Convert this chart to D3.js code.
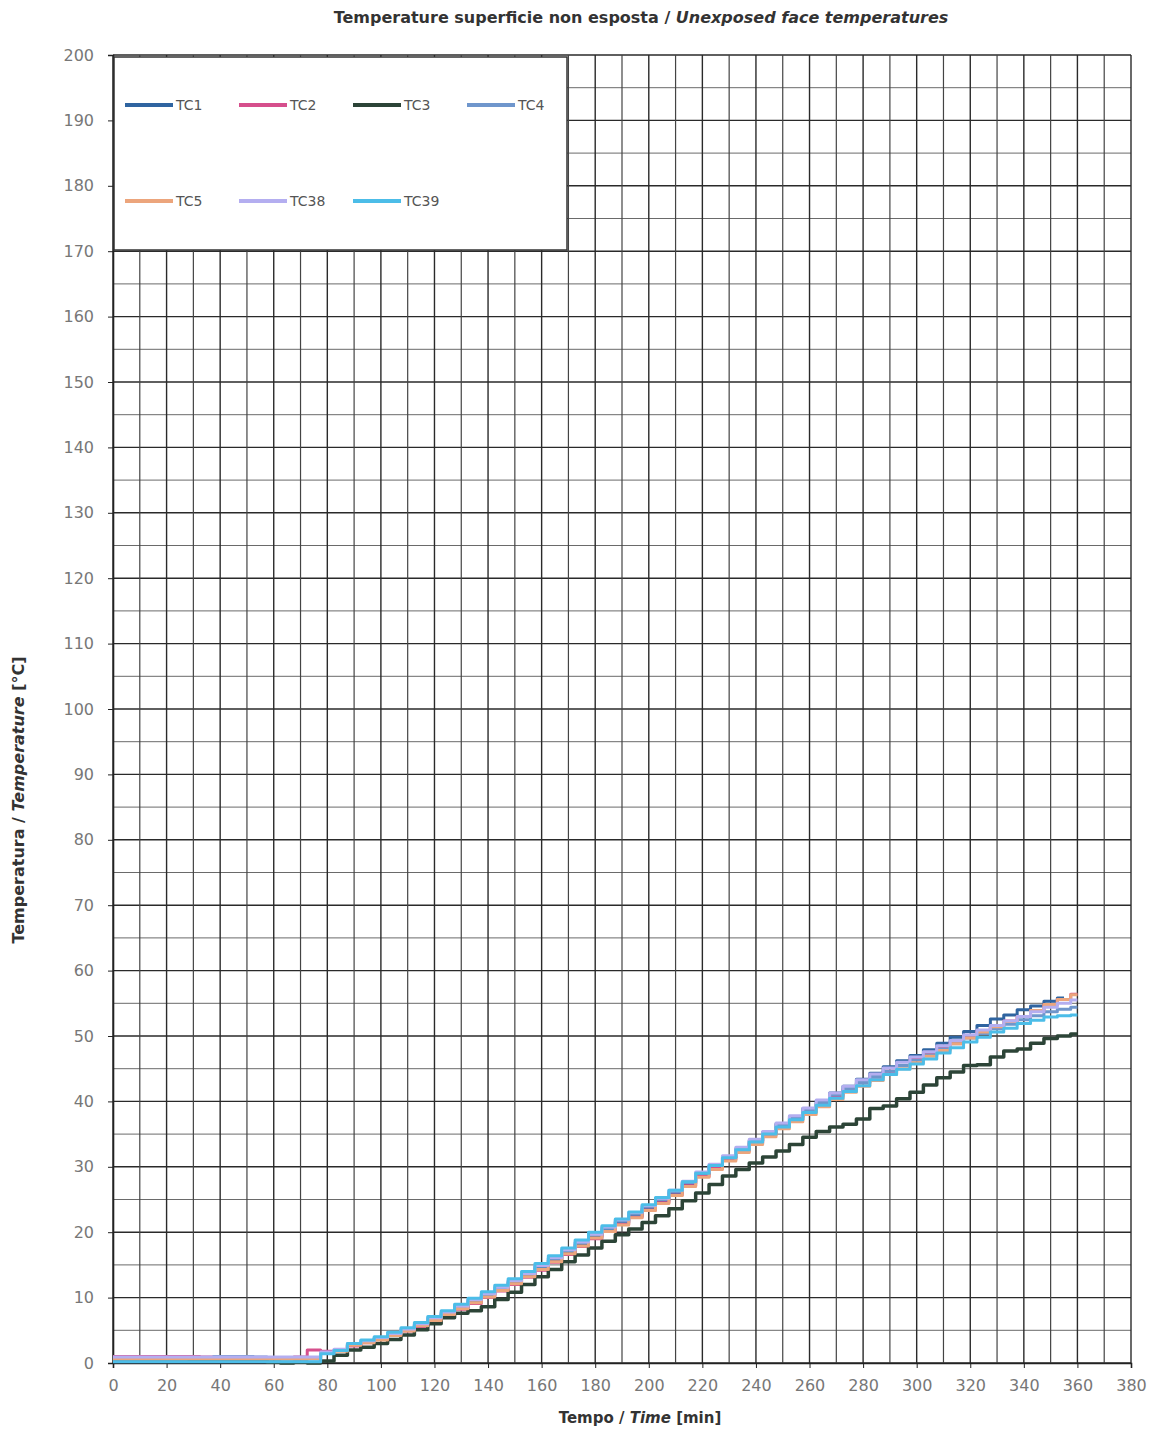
<html>
<head>
<script src="https://d3js.org/d3.v7.min.js"></script>
<style>
  body { margin: 0; background: #fff; }
  text { font-family: "DejaVu Sans", sans-serif; }
  .tick-label { fill: #777; font-size: 16px; }
  .axis-title { fill: #333; font-size: 15px; font-weight: bold; }
  .legend-label { fill: #555; font-size: 14px; }
</style>
</head>
<body>
<svg id="chart" width="1160" height="1429"></svg>
<script>
// sample times [min]
const times = [0,5,10,15,20,25,30,35,40,45,50,55,60,65,70,75,80,85,90,95,100,105,110,115,120,125,130,135,140,145,150,155,160,165,170,175,180,185,190,195,200,205,210,215,220,225,230,235,240,245,250,255,260,265,270,275,280,285,290,295,300,305,310,315,320,325,330,335,340,345,350,355,360];

const tc1 = [0.6,0.6,0.6,0.6,0.6,0.6,0.6,0.6,0.6,0.6,0.6,0.6,0.6,0.6,0.6,0.7,1.6,1.9,2.7,3.2,3.7,4.4,5.0,5.8,6.7,7.5,8.4,9.4,10.3,11.2,12.3,13.3,14.5,15.7,16.9,18.1,19.3,20.4,21.5,22.5,23.6,24.8,26.0,27.4,28.9,30.1,31.4,32.7,34.0,35.3,36.6,37.7,38.9,40.1,41.3,42.3,43.4,44.3,45.3,46.2,47.0,47.9,48.9,49.8,50.7,51.6,52.6,53.2,54.0,54.6,55.3,55.8,null];
const tc2 = [1.0,1.0,1.0,1.0,1.0,1.0,1.0,0.9,0.8,0.8,0.8,0.8,0.8,0.8,0.9,2.0,1.8,1.9,2.6,3.1,3.6,4.2,4.9,5.6,6.4,7.3,8.2,9.1,10.0,11.0,12.0,13.1,14.2,15.4,16.6,17.8,19.0,20.1,21.2,22.3,23.4,24.5,25.7,27.1,28.5,29.8,31.1,32.4,33.6,34.9,36.1,37.2,38.4,39.6,40.8,41.8,42.8,43.7,44.6,45.5,46.4,47.3,48.2,49.1,50.0,50.8,51.5,52.3,53.0,53.9,54.8,55.6,56.4];
const tc3 = [0.5,0.5,0.5,0.5,0.5,0.5,0.5,0.5,0.5,0.5,0.5,0.5,0.1,0.0,0.1,0.0,0.3,1.2,2.0,2.4,3.0,3.6,4.3,5.1,6.0,6.9,7.6,8.0,8.6,9.7,10.8,12.0,13.2,14.3,15.5,16.5,17.6,18.6,19.6,20.5,21.5,22.5,23.6,24.8,26.0,27.3,28.6,29.6,30.6,31.5,32.4,33.4,34.5,35.4,36.1,36.5,37.3,38.9,39.3,40.4,41.4,42.5,43.6,44.5,45.5,45.6,46.8,47.7,48.0,48.9,49.6,50.0,50.3];
const tc4 = [0.6,0.6,0.6,0.6,0.6,0.6,0.7,0.8,1.0,1.0,1.0,0.9,0.8,0.7,0.6,0.6,1.5,1.9,2.9,3.3,3.8,4.4,5.1,5.9,6.8,7.7,8.6,9.6,10.5,11.5,12.5,13.6,14.8,16.0,17.2,18.4,19.6,20.6,21.7,22.8,23.9,25.0,26.2,27.6,29.0,30.2,31.5,32.8,34.0,35.2,36.4,37.5,38.7,39.8,41.0,41.9,42.9,43.8,44.6,45.5,46.3,47.1,48.0,48.8,49.7,50.4,51.1,51.8,52.5,53.1,53.7,54.1,54.4];
const tc5 = [0.6,0.6,0.6,0.6,0.6,0.6,0.6,0.6,0.6,0.6,0.6,0.6,0.6,0.6,0.6,0.7,1.5,1.8,2.7,3.1,3.5,4.2,4.9,5.7,6.5,7.4,8.3,9.2,10.1,11.1,12.1,13.2,14.3,15.5,16.7,17.9,19.1,20.1,21.1,22.2,23.3,24.4,25.6,27.0,28.4,29.6,30.9,32.2,33.4,34.6,35.8,36.9,38.0,39.2,40.3,41.4,42.3,43.2,44.1,45.0,45.9,46.9,47.8,48.8,49.7,50.6,51.4,52.2,53.0,53.9,54.8,55.6,56.3];
const tc38 = [0.9,0.9,0.9,0.9,0.9,0.9,0.9,0.9,0.9,0.9,0.9,0.9,0.9,0.9,0.9,0.9,1.7,2.1,3.0,3.4,3.9,4.5,5.2,6.0,6.9,7.8,8.7,9.7,10.6,11.6,12.6,13.7,14.9,16.1,17.3,18.5,19.7,20.8,21.9,23.0,24.1,25.2,26.4,27.8,29.2,30.4,31.7,33.0,34.2,35.4,36.7,37.8,39.0,40.2,41.3,42.3,43.3,44.2,45.1,46.0,46.8,47.6,48.5,49.3,50.2,50.9,51.6,52.3,53.0,53.7,54.4,55.0,55.5];
const tc39 = [0.2,0.2,0.2,0.2,0.2,0.2,0.2,0.2,0.2,0.2,0.2,0.2,0.2,0.2,0.2,0.2,1.4,1.9,3.0,3.5,4.0,4.7,5.4,6.2,7.1,8.0,9.0,9.9,10.9,11.9,12.9,14.0,15.2,16.4,17.6,18.8,20.0,21.0,22.0,23.1,24.2,25.3,26.4,27.7,29.0,30.2,31.4,32.6,33.8,35.0,36.1,37.2,38.3,39.4,40.5,41.5,42.4,43.3,44.1,44.9,45.7,46.5,47.4,48.2,49.1,49.8,50.6,51.2,51.9,52.4,52.9,53.1,53.2];

const seriesNames = ["TC1","TC2","TC3","TC4","TC5","TC38","TC39"];
const seriesValues = [tc1, tc2, tc3, tc4, tc5, tc38, tc39];
const seriesColors = ["#2f64a0","#d64f8c","#2c4437","#6f96cc","#eca57c","#b4aef0","#4cbde8"];

const xTicks = [0,20,40,60,80,100,120,140,160,180,200,220,240,260,280,300,320,340,360,380];
const yTicks = [0,10,20,30,40,50,60,70,80,90,100,110,120,130,140,150,160,170,180,190,200];

const plotLeft = 113, plotRight = 1131, plotTop = 55, plotBottom = 1363;

const xs = d3.scaleLinear().domain([0, 380]).range([plotLeft, plotRight]);
const ys = d3.scaleLinear().domain([0, 200]).range([plotBottom, plotTop]);

const svg = d3.select("#chart");

// grid
const grid = svg.append("g");
grid.selectAll("line.hg")
  .data(d3.range(0, 201, 5))
  .enter().append("line")
  .attr("x1", plotLeft).attr("x2", plotRight)
  .attr("y1", d => ys(d)).attr("y2", d => ys(d))
  .attr("stroke", d => d % 10 === 0 ? "#2a2a2a" : "#6a6a6a")
  .attr("stroke-width", d => d % 10 === 0 ? 1.4 : 1);

grid.selectAll("line.vg")
  .data(d3.range(0, 381, 10))
  .enter().append("line")
  .attr("y1", plotTop).attr("y2", plotBottom)
  .attr("x1", d => xs(d)).attr("x2", d => xs(d))
  .attr("stroke", d => d % 20 === 0 ? "#2a2a2a" : "#444")
  .attr("stroke-width", d => d % 20 === 0 ? 1.4 : 1.2);

// axes
const xAxis = d3.axisBottom(xs).tickValues(xTicks).tickSize(5).tickPadding(12);
const yAxis = d3.axisLeft(ys).tickValues(yTicks).tickSize(5).tickPadding(14);

const gx = svg.append("g").attr("transform", `translate(0,${plotBottom})`).call(xAxis);
const gy = svg.append("g").attr("transform", `translate(${plotLeft},0)`).call(yAxis);
[gx, gy].forEach(g => {
  g.select(".domain").attr("stroke", "#222").attr("stroke-width", 1.6);
  g.selectAll(".tick line").attr("stroke", "#222");
  g.selectAll(".tick text").attr("class", "tick-label").attr("font-family", null).attr("font-size", null).attr("fill", null);
});

// series
const line = d3.line()
  .defined(d => d[1] !== null)
  .x(d => xs(d[0]))
  .y(d => ys(d[1]))
  .curve(d3.curveStep);

seriesValues.forEach((vals, i) => {
  svg.append("path")
    .datum(times.map((t, j) => [t, vals[j] === undefined ? null : vals[j]]))
    .attr("fill", "none")
    .attr("stroke", seriesColors[i])
    .attr("stroke-width", i === 2 ? 3.5 : 3)
    .attr("stroke-linejoin", "round")
    .attr("d", line);
});

// legend
const legend = svg.append("g");
legend.append("rect")
  .attr("x", 114).attr("y", 57).attr("width", 453).attr("height", 193)
  .attr("fill", "#fff").attr("stroke", "#333").attr("stroke-width", 1.5);

seriesNames.forEach((name, i) => {
  const col = i % 4, row = Math.floor(i / 4);
  const lx = 125 + col * 114, ly = 105 + row * 96;
  legend.append("line")
    .attr("x1", lx).attr("x2", lx + 48)
    .attr("y1", ly).attr("y2", ly)
    .attr("stroke", seriesColors[i]).attr("stroke-width", 4);
  legend.append("text")
    .attr("class", "legend-label")
    .attr("x", lx + 51).attr("y", ly + 5)
    .text(name);
});

// titles
const title = svg.append("text")
  .attr("class", "axis-title")
  .attr("x", 641).attr("y", 23)
  .attr("text-anchor", "middle")
  .style("font-size", "16px");
title.append("tspan").text("Temperature superficie non esposta  / ");
title.append("tspan").attr("font-style", "italic").text("Unexposed face temperatures");

const xTitle = svg.append("text")
  .attr("class", "axis-title")
  .attr("x", 640).attr("y", 1423)
  .attr("text-anchor", "middle");
xTitle.append("tspan").text("Tempo / ");
xTitle.append("tspan").attr("font-style", "italic").text("Time");
xTitle.append("tspan").text(" [min]");

const yTitle = svg.append("text")
  .attr("class", "axis-title")
  .attr("transform", "translate(24,800) rotate(-90)")
  .attr("text-anchor", "middle")
  .style("font-size", "16px");
yTitle.append("tspan").text("Temperatura / ");
yTitle.append("tspan").attr("font-style", "italic").text("Temperature");
yTitle.append("tspan").text(" [°C]");
</script>
</body>
</html>
